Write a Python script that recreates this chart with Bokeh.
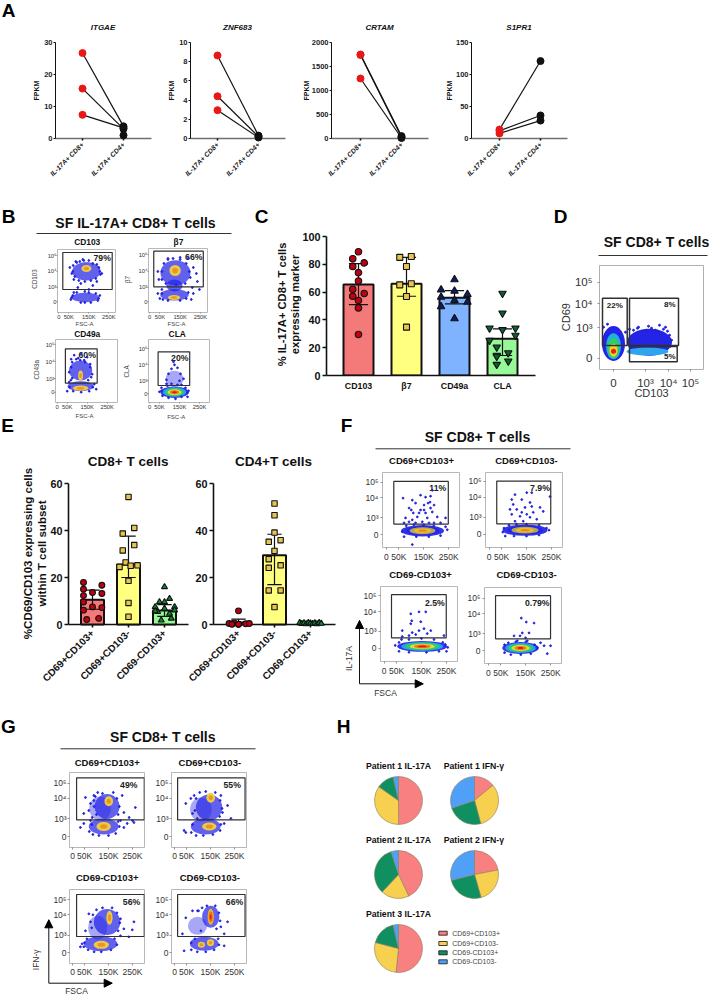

from math import pi
from bokeh.plotting import figure
from bokeh.models import Column, Range1d, FixedTicker
from bokeh.core.properties import value
from bokeh.embed import file_html
from bokeh.resources import INLINE

FONT = "Liberation Sans"

# ---------- Panel A values (FPKM)
A_GENES = ["ITGAE", "ZNF683", "CRTAM", "S1PR1"]
A_GROUPS = ["IL-17A+ CD8+", "IL-17A+ CD4+"]
ITGAE_CD8 = [26.7, 15.6, 7.4]
ITGAE_CD4 = [3.8, 3.0, 3.3]
ITGAE_EXTRA = [1.0]
ZNF683_CD8 = [8.65, 4.4, 2.95]
ZNF683_CD4 = [0.3, 0.2, 0.1]
CRTAM_CD8 = [1750, 1740, 1250]
CRTAM_CD4 = [50, 30, 10]
S1PR1_CD8 = [14, 12, 8]
S1PR1_CD4 = [121, 36, 28]

# ---------- Panel C values (% expressing)
C_LABELS = ["CD103", "β7", "CD49a", "CLA"]
C_MEANS = [65.5, 66, 56, 26.4]
C_HI = [80.5, 85, 61, 33.6]
C_LO = [51, 57, 51.6, 14.4]
C_CD103 = [89, 84, 81, 78.5, 74, 68, 62, 59, 57, 54, 48.6, 29.5]
C_CD103_DX = [0, -.12, .12, -.12, 0, 0, -.12, .12, -.12, 0, 0, 0]
C_B7 = [85, 85.6, 78.4, 65.2, 66, 56.8, 34.8]
C_B7_DX = [-.14, .1, 0, -.14, .1, 0, 0]
C_CD49A = [69, 61.6, 60.7, 58.3, 56.4, 54, 52.8, 49.6, 41]
C_CD49A_DX = [0, -.28, 0, .27, -.28, 0, .27, -.28, 0]
C_CLA = [59, 44.8, 34, 34, 32.9, 28.8, 25.2, 20.4, 14.4, 16.3, 7.9, 10.3, 13.7]
C_CLA_DX = [0, 0, -.27, .27, 0, .27, -.27, -.12, -.12, .12, -.12, .12, -.12]

# ---------- Panel E values
E_LABELS = ["CD69+CD103+", "CD69+CD103-", "CD69-CD103+"]
E8_MEANS = [10.5, 25.5, 6]
E8_HI = [14.6, 37.6, 8.5]
E8_LO = [6.5, 20, 3.5]
E4_MEANS = [0.8, 29.5, 0.5]
E4_HI = [2.3, 38.4, 0.8]
E4_LO = [0.1, 17, 0.2]
E8_A = [17.9, 16.7, 15, 13.6, 13.2, 12.3, 9.6, 7.5, 7.2, 6.1, 2.1, 2.6]
E8_A_DX = [-.25, .26, -.25, 0, .26, -.25, -.25, 0, .26, -.25, -.16, .17]
E8_B = [54.3, 41.1, 38.7, 33.8, 31.5, 26.4, 24.5, 25, 25.2, 18.6, 9.2, 3.3]
E8_B_DX = [0, .16, -.16, .16, -.16, -.08, -.25, .06, .25, 0, 0, 0]
E8_C = [16, 11, 9.6, 9.6, 7.5, 7.5, 6.8, 5.4, 4.7, 1.8, 2.6, 5.7, 6.1]
E8_C_DX = [0, .14, -.14, 0, -.26, .28, 0, -.19, .14, -.09, .19, -.26, .28]
E4_A = [5.8, .4, .7, .1, .3, .4, .1, .1]
E4_A_DX = [0, -.26, -.12, 0, .2, .3, 0, -.18]
E4_B = [51.5, 46.5, 39.1, 35.2, 35.9, 31.3, 27.8, 24.1, 25.2, 14.5, 14.5, 7.4]
E4_B_DX = [0, 0, 0, -.16, .17, 0, -.16, -.16, .17, -.16, .17, 0]
E4_C = [.7, .3, .6, .2, .8, .5, .3, .6, .2, .7, .4]
E4_C_DX = [-.3, -.24, -.18, -.12, -.06, 0, .06, .12, .18, .24, .3]

# ---------- Panel H fractions (percent), clockwise from 12 o'clock
PIE_KEYS = ["CD69+CD103+", "CD69+CD103-", "CD69-CD103+", "CD69-CD103-"]
PIE_P1_17 = [50, 34.7, 11.7, 3.6]
PIE_P1_G = [14, 31.8, 24, 30.2]
PIE_P2_17 = [43, 19, 33, 5]
PIE_P2_G = [22, 23.6, 25.4, 29]
PIE_P3_17 = [51.7, 27.4, 17.3, 3.6]

# ---------- Flow panels: populations as (FSC in K, channel, radius K, radius channel, level)
FLOW_X_TICKS = [0, 50, 150, 250]
FLOW_X_LABELS = ["0", "50K", "150K", "250K"]
LOG_LABELS = ["0", "10³", "10⁴", "10⁵"]

B1_BLOBS = [(138, 30.3, 71, 9.2, 0), (138, 33, 25, 3.5, 1), (133, 4, 70, 4.7, 0)]
B1_DOTS = [(55, 34), (65, 28), (75, 22), (200, 34), (215, 28), (190, 20), (170, 16), (110, 18), (95, 14), (70, 6), (60, 2), (205, 6), (195, 1), (150, 12), (130, 10), (120, 42), (150, 41), (85, 40),
           (72, 36), (80, 25), (90, 39), (105, 40), (125, 41), (170, 38), (190, 37), (205, 30), (208, 27), (185, 23), (160, 21), (130, 20), (100, 21), (70, 30), (64, 4), (75, 9), (90, 9), (110, -1), (130, -1), (160, -1), (185, 8), (199, 3), (150, 9)]
B2_BLOBS = [(127, 28.7, 74, 12.5, 0), (125, 31, 28, 5.5, 1), (122, 6.7, 70, 5.8, 0), (120, 4, 30, 2.6, 1), (122, 16, 40, 6, 0)]
B2_DOTS = [(40, 30), (45, 22), (215, 34), (230, 28), (235, 20), (210, 14), (50, 3), (40, 8), (215, 8), (205, 2), (190, 43), (90, 43), (150, 44), (60, 12), (245, 12),
           (60, 30), (70, 38), (90, 42), (115, 43), (150, 42), (180, 38), (195, 30), (200, 24), (175, 18), (80, 18), (60, 8), (65, 2), (90, 1), (150, 1), (180, 3), (190, 9), (60, 22), (130, 17)]
B3_BLOBS = [(117, 21.7, 58, 10, 0), (117, 6, 65, 5, 0), (117, 4, 38, 2.6, 1), (117, 16.7, 12, 5, 1)]
B3_DOTS = [(70, 33), (85, 37), (120, 38), (150, 35), (165, 28), (175, 18), (60, 20), (60, 10), (185, 8), (195, 3), (50, 1), (105, 34), (135, 32), (75, 14),
           (70, 25), (75, 30), (95, 33), (115, 32), (140, 30), (165, 25), (170, 15), (68, 12), (62, 5), (80, 1), (120, 0), (160, 1), (178, 5), (155, 12)]
B4_BLOBS = [(125, 15, 45, 8, 4), (125, 1.6, 70, 5.8, 2)]
B4_DOTS = [(125, 29), (110, 25), (140, 26), (95, 20), (155, 20), (85, 14), (170, 15), (120, 32), (150, 13), (195, 3), (50, 2), (60, 6), (190, -3),
           (85, 10), (90, 8), (60, 3), (65, -2), (95, -4), (130, -5), (160, -3), (190, 1), (180, 6), (160, 9), (110, 10), (140, 9)]

F1_BLOBS = [(145, 4, 86, 5.8, 3)]
F1_DOTS = [(67, 37), (104, 35), (137, 40), (157, 38), (184, 45), (177, 39), (167, 32), (151, 30), (117, 32), (91, 27), (100, 25), (137, 25), (175, 33), (191, 30), (108, 22), (77, 17), (91, 13), (124, 18), (157, 22), (184, 23), (204, 18), (237, 17), (144, 13), (164, 17), (117, 12), (71, 12), (191, 12), (131, 22), (104, 15), (177, 27), (151, 25), (171, 12), (217, 12), (104, -10), (64, 3), (244, 5), (237, 8), (71, -2), (217, -1),
           (80, 9), (110, 10), (150, 10), (190, 9), (120, -2), (170, -2)]
F2_BLOBS = [(144, 4, 90, 5.8, 3)]
F2_DOTS = [(104, 40), (91, 35), (151, 42), (171, 42), (97, 30), (131, 35), (164, 32), (84, 25), (111, 25), (144, 27), (171, 28), (204, 27), (217, 23), (91, 20), (124, 18), (151, 20), (177, 22), (191, 15), (137, 13), (104, 13), (131, 22), (164, 17), (244, 38), (240, 4), (55, 2),
           (60, 6), (80, 9), (110, 10), (150, 10), (200, 9), (230, 6), (65, -2), (100, -2), (150, -2), (200, -1)]
F3_BLOBS = [(153, 2, 100, 5.5, 2)]
F3_DOTS = [(107, 35), (140, 37), (167, 37), (111, 28), (107, 25), (147, 27), (160, 20), (73, 18), (113, 16), (140, 18), (187, 18), (100, 13), (127, 14), (173, 15), (240, 13), (73, 12), (255, 1), (250, -3), (45, 3),
           (60, 6), (70, 9), (100, 9), (150, 10), (200, 9), (235, 6), (245, 4), (60, -3), (100, -4), (170, -4), (220, -3)]
F4_BLOBS = [(129, 2.7, 73, 6, 2)]
F4_DOTS = [(132, 33), (152, 29), (183, 28), (103, 15), (136, 18), (163, 18), (127, 15), (149, 13), (116, 10), (156, 10), (223, 5), (249, 5), (236, -3), (209, 8),
           (65, 6), (80, 8), (110, 9), (150, 9), (185, 6), (195, 3), (65, -2), (90, -4), (130, -4), (170, -3)]

G1_BLOBS = [(115, 28, 45, 12, 4), (144, 30, 52, 12.5, 0), (151, 35.3, 18, 5, 1), (130, 10, 62, 8, 0), (130, 10, 30, 4.5, 1)]
G1_DOTS = [(54, 39), (75, 33), (68, 26), (47, 23), (89, 41), (207, 41), (214, 24), (236, 19), (250, 16), (262, 29), (228, 13), (256, 14), (214, 9), (200, 16), (47, 13), (33, 9), (89, 36), (82, 19),
           (95, 40), (105, 44), (125, 43), (170, 44), (185, 38), (195, 30), (190, 22), (90, 30), (100, 22), (80, 12), (70, 5), (85, 2), (110, 1), (150, 1), (180, 3), (195, 10), (190, 15), (75, 16)]
G2_BLOBS = [(110, 27, 45, 12, 4), (144, 29, 55, 13, 0), (151, 38.7, 18, 5, 1), (130, 10, 62, 8, 0), (145, 10, 30, 4, 1)]
G2_DOTS = [(68, 38), (47, 33), (75, 23), (193, 41), (221, 31), (200, 24), (235, 18), (82, 41), (40, 6), (47, 4), (207, 13),
           (90, 38), (105, 44), (130, 45), (170, 44), (190, 36), (198, 28), (188, 20), (85, 26), (95, 18), (75, 12), (70, 4), (90, 1), (120, 1), (160, 2), (190, 6), (193, 12)]
G3_BLOBS = [(105, 25, 40, 12, 4), (144, 30.7, 55, 13, 0), (154, 35, 13, 7, 1), (117, 9, 70, 7.5, 0), (120, 8, 32, 4, 1)]
G3_DOTS = [(68, 39), (75, 31), (54, 22), (200, 34), (214, 24), (256, 31), (249, 23), (40, 9), (235, 16), (200, 17), (47, 6), (33, 6),
           (85, 38), (100, 43), (125, 45), (165, 45), (185, 40), (197, 30), (190, 22), (80, 25), (60, 14), (50, 10), (65, 3), (90, 1), (120, 1), (160, 3), (185, 8), (175, 14)]
G4_BLOBS = [(96, 27, 40, 9, 4), (151, 36, 36, 11, 0), (151, 36, 13, 8, 5), (124, 9, 60, 7, 0), (112, 8, 15, 3, 1), (150, 10, 15, 3.5, 1)]
G4_DOTS = [(47, 35), (33, 19), (75, 42), (221, 31), (193, 26), (207, 19), (40, 2), (207, 7), (96, 42),
           (100, 42), (115, 45), (135, 47), (170, 47), (185, 40), (190, 32), (175, 24), (110, 22), (85, 14), (70, 10), (70, 3), (95, 1), (130, 1), (165, 3), (185, 8), (182, 14)]

# Panel D populations in channel units
D_X_TICKS = [0, 32, 55, 77]
D_Y_TICKS = [0, 30.7, 54.7, 76]
D_X = [36, 34, 0, 0, 0, 0, 0]
D_Y = [16, 6.7, 14.7, 12, 10, 8, 7]
D_RX = [22.5, 21, 11.5, 7.5, 6, 4, 2.5]
D_RY = [13.5, 4, 17.5, 13, 10, 6.5, 2.5]
D_COL = ["#2424e6", "#2ea6ee", "#2424e6", "#20b0e0", "#30d060", "#f0d030", "#e82010"]
D_DOTS_X = [-10, -6, 12, 16, 20, 25, 30, 35, 38, 42, 46, 50, 52, 54, 56, 58, 24, 33, 44, 57]
D_DOTS_Y = [31, 34, 26, 29, 28, 31, 27, 32, 30, 28, 33, 29, 31, 27, 23, 18, 30, 28, 27, 12]

PALETTES = {
    0: ["#2424e6"],
    1: ["#f0d040", "#f09020"],
    2: ["#2424e6", "#20b0e0", "#30d060", "#f0e030", "#f07020", "#e01010"],
    3: ["#2424e6", "#2424e6", "#c0b050", "#f0c020", "#f08020"],
    4: ["#2424e6"],
    5: ["#f0c020", "#f07020", "#e82010"],
}
ALPHAS = {0: 0.72, 1: 0.95, 2: 0.92, 3: 0.92, 4: 0.4, 5: 0.95}
GATE = "#303030"


def fig(l, t, r, b, xr, yr, ml=45, mr=4, mt=4, mb=50):
    p = figure(width=r - l + ml + mr, height=b - t + mt + mb,
               x_range=Range1d(*xr), y_range=Range1d(*yr),
               output_backend="svg", toolbar_location=None, frame_align=False,
               min_border_left=ml, min_border_right=mr, min_border_top=mt, min_border_bottom=mb,
               background_fill_alpha=0, border_fill_alpha=0, outline_line_color=None,
               styles={"position": "absolute", "left": f"{l - ml}px", "top": f"{t - mt}px"})
    p.grid.visible = False
    return p


def style_axis(ax, size, bold=True, color="#111111", width=1.5, tick=3, standoff=2, italic=False):
    ax.axis_line_width = width
    ax.axis_line_color = "#111111"
    ax.major_tick_line_width = width
    ax.major_tick_line_color = "#111111"
    ax.major_tick_out = tick
    ax.major_tick_in = 0
    ax.minor_tick_line_color = None
    ax.major_label_text_font = FONT
    ax.major_label_text_font_size = f"{size}px"
    ax.major_label_text_font_style = ("bold italic" if italic else "bold") if bold else ("italic" if italic else "normal")
    ax.major_label_text_color = color
    ax.major_label_standoff = standoff


figs = []

# Background canvas in reference pixel coordinates, for labels only
bg = figure(width=709, height=996, x_range=Range1d(0, 709), y_range=Range1d(996, 0),
            x_axis_type=None, y_axis_type=None, output_backend="svg", toolbar_location=None, frame_align=False,
            min_border=0, min_border_left=0, min_border_right=0, min_border_top=0, min_border_bottom=0,
            outline_line_color=None, background_fill_alpha=0, border_fill_alpha=0,
            styles={"position": "absolute", "left": "0px", "top": "0px"})
bg.grid.visible = False
figs.append(bg)


def T(x, y, s, size, bold=False, color="#111111", align="center", angle=0, italic=False):
    style = ("bold italic" if italic else "bold") if bold else ("italic" if italic else "normal")
    bg.text(x=[x], y=[y], text=[s], text_font=value(FONT), text_font_size=value(f"{size}px"),
            text_font_style=style, text_color=color, text_align=align, text_baseline="middle",
            angle=angle, angle_units="rad")


def rule(x0, x1, y):
    bg.segment(x0=[x0], y0=[y], x1=[x1], y1=[y], line_color="#333333", line_width=1)


for s, x, y in [("A", 8, 10), ("B", 8, 216), ("C", 261, 216), ("D", 560, 216), ("E", 7, 425), ("F", 346, 425), ("G", 8, 726), ("H", 343, 726)]:
    T(x, y, s, 19, bold=True, color="#000000")

# ---------- Panel A
A_BOXES = [(55, 151, 82), (190, 285, 217), (331, 428, 360), (471, 567, 499)]
A_LABEL_X = [35.5, 171, 306, 449]
A_DATA = [(ITGAE_CD8, ITGAE_CD4, ITGAE_EXTRA, 30, [0, 10, 20, 30]),
          (ZNF683_CD8, ZNF683_CD4, [], 10, [0, 2, 4, 6, 8, 10]),
          (CRTAM_CD8, CRTAM_CD4, [], 2000, [0, 500, 1000, 1500, 2000]),
          (S1PR1_CD8, S1PR1_CD4, [], 150, [0, 50, 100, 150])]
for gene, (l, r, c0), lab_x, (cd8, cd4, extra, ymax, yt) in zip(A_GENES, A_BOXES, A_LABEL_X, A_DATA):
    per = ymax / 96
    xr = ((l - c0) / 41, (r - c0) / 41)
    ax = fig(l, 42, r, 138, xr, (0, ymax), ml=30, mb=50, mt=4)
    ax.xaxis.ticker = FixedTicker(ticks=[0, 1])
    ax.xaxis.major_label_overrides = {0: A_GROUPS[0], 1: A_GROUPS[1]}
    ax.xaxis.major_label_orientation = pi / 4
    ax.yaxis.ticker = FixedTicker(ticks=yt)
    style_axis(ax.xaxis[0], 6.8, italic=True, color="#222222", width=1.6, tick=2, standoff=3)
    ax.xaxis.axis_line_color = "#707070"
    style_axis(ax.yaxis[0], 7.5, color="#222222", width=1, tick=2, standoff=1)
    figs.append(ax)
    p = fig(l, 42, r, 144, xr, (-6 * per, ymax), ml=4, mb=4, mt=4)
    p.axis.visible = False
    for a, c in zip(cd8, cd4):
        p.line([0, 1], [a, c], line_color="#111111", line_width=1.2)
    p.scatter([0] * len(cd8), cd8, size=7, color="#e81818")
    p.scatter([1] * (len(cd4) + len(extra)), cd4 + extra, size=7, color="#111111")
    figs.append(p)
    T((l + r) / 2 - 0.5, 27, gene, 8, bold=True, italic=True)
    T(lab_x, 90, "FPKM", 7, bold=True, angle=pi / 2)


# ---------- Flow helper
def flow(frame, x0, pxk, y0, yticks, gate, pct, pct_xy, blobs, dots, tsize, gate_w=1.2, outline="#b8b8b8", ml=28, mb=16, standoff=1, tick=2):
    l, t, r, b = frame
    p = fig(l, t, r, b, ((l - x0) / pxk, (r - x0) / pxk), (y0 - b, y0 - t), ml=ml, mr=2, mt=2, mb=mb)
    p.outline_line_color = outline
    for (cx, cy, rx, ry, lev) in blobs:
        pal = PALETTES[lev]
        for i, col in enumerate(pal):
            k = 1 - i / len(pal)
            p.ellipse(x=[cx], y=[cy], width=[2 * rx * k], height=[2 * ry * k], fill_color=col,
                      line_color=None, fill_alpha=ALPHAS[lev])
    p.scatter([d[0] for d in dots], [d[1] for d in dots], size=1.8, color="#2222dd")
    p.quad(left=[gate[0]], right=[gate[1]], bottom=[gate[2]], top=[gate[3]], fill_color=None,
           line_color=GATE, line_width=gate_w)
    p.xaxis.ticker = FixedTicker(ticks=FLOW_X_TICKS)
    p.xaxis.major_label_overrides = dict(zip(FLOW_X_TICKS, FLOW_X_LABELS))
    p.yaxis.ticker = FixedTicker(ticks=yticks)
    p.yaxis.major_label_overrides = dict(zip(yticks, LOG_LABELS))
    for ax in (p.xaxis[0], p.yaxis[0]):
        style_axis(ax, tsize, bold=False, color="#333333", width=0.7, tick=tick, standoff=standoff)
        ax.axis_line_color = None
        ax.major_tick_line_color = "#666666"
    figs.append(p)
    T(pct_xy[0], pct_xy[1], pct, 8.7, bold=True, color="#222222")


# ---------- Panel B
T(135, 222, "SF IL-17A+ CD8+ T cells", 14, bold=True)
rule(36, 231, 233)
flow((57, 249, 115, 312), 58.3, .2, 301, [0, 14.3, 30.3, 46], (20, 267, 12, 49), "79%", (101.7, 257.7), B1_BLOBS, B1_DOTS, 5.8, standoff=0, tick=1)
flow((148, 248, 207, 312), 149.2, .203, 301, [0, 14.3, 30.3, 46.7], (20, 264, 14.7, 50.3), "66%", (193.3, 256), B2_BLOBS, B2_DOTS, 5.8, standoff=0, tick=1)
flow((55, 339, 117, 402), 56.7, .2, 391.7, [0, 13.4, 30.7, 47.4], (41, 200, 9, 43.4), "60%", (86.7, 354), B3_BLOBS, B3_DOTS, 5.8, standoff=0, tick=1)
flow((148, 339, 209, 402), 149, .2, 393.3, [0, 13.3, 29.3, 45], (43, 201, 8.3, 42), "20%", (179.3, 357.7), B4_BLOBS, B4_DOTS, 5.8, standoff=0, tick=1)
for x, y, s in [(86.7, 241, "CD103"), (178, 241, "β7"), (86.7, 333.3, "CD49a"), (176.7, 333.7, "CLA")]:
    T(x, y, s, 8.4, bold=True)
for x, y in [(84, 323), (176, 323.5), (84, 415.7), (175.7, 416.7)]:
    T(x, y, "FSC-A", 6, color="#444444")
for x, y, s in [(34, 278.5, "CD103"), (126.7, 279, "β7"), (36, 369.3, "CD49a"), (126, 371, "CLA")]:
    T(x, y, s, 6.3, color="#444444", angle=pi / 2)


# ---------- Bars helper
def bars(p, xs, means, hi, lo, cols, width, cap, lw=2):
    p.vbar(x=xs, width=width, top=means, bottom=0, fill_color=cols, line_color="#111111", line_width=lw)
    p.segment(x0=xs, y0=lo, x1=xs, y1=hi, line_color="#111111", line_width=1.2)
    p.segment(x0=[x - cap for x in xs], y0=hi, x1=[x + cap for x in xs], y1=hi, line_color="#111111", line_width=1.2)
    p.segment(x0=[x - cap for x in xs], y0=lo, x1=[x + cap for x in xs], y1=lo, line_color="#111111", line_width=1.2)


def pts(p, i, vals, dxs, marker, color, size):
    p.scatter([i + d for d in dxs], vals, marker=marker, size=size, fill_color=color,
              line_color="#111111", line_width=1.1)


RED, YEL, BLU, GRN = "#f47a7a", "#ffff80", "#7fb2ff", "#98f898"

# ---------- Panel C
p = fig(326, 236, 535, 375, ((326 - 358) / 48, (535 - 358) / 48), (0, 100), ml=32, mb=24)
bars(p, [0, 1, 2, 3], C_MEANS, C_HI, C_LO, [RED, YEL, BLU, GRN], 0.625, 0.2)
pts(p, 0, C_CD103, C_CD103_DX, "circle", "#c00010", 6.5)
pts(p, 1, C_B7, C_B7_DX, "square", "#e8c450", 6)
pts(p, 2, C_CD49A, C_CD49A_DX, "triangle", "#101c60", 7.5)
pts(p, 3, C_CLA, C_CLA_DX, "inverted_triangle", "#0c6030", 7.5)
p.xaxis.ticker = FixedTicker(ticks=[0, 1, 2, 3])
p.xaxis.major_label_overrides = dict(enumerate(C_LABELS))
p.yaxis.ticker = FixedTicker(ticks=[0, 20, 40, 60, 80, 100])
style_axis(p.xaxis[0], 8.8, width=1.6, tick=0, standoff=5)
style_axis(p.yaxis[0], 10.8, width=1.6, tick=4, standoff=2)
figs.append(p)
T(281, 304, "% IL-17A+ CD8+ T cells", 11.2, bold=True, angle=pi / 2)
T(294.5, 304, "expressing marker", 11.2, bold=True, angle=pi / 2)

# ---------- Panel D
T(656, 241.7, "SF CD8+ T cells", 14, bold=True)
rule(598, 707, 255)
p = fig(599, 265, 703, 369, (599 - 613, 703 - 613), (357.7 - 369, 357.7 - 265), ml=36, mr=4, mt=2, mb=24)
p.outline_line_color = "#b0b0b0"
p.ellipse(x=D_X, y=D_Y, width=[2 * v for v in D_RX], height=[2 * v for v in D_RY], fill_color=D_COL, line_color=None)
p.scatter(D_DOTS_X, D_DOTS_Y, size=2, color="#2222dd")
p.quad(left=[-11, 16, 16], right=[13.7, 65, 63.7], bottom=[12.7, 12.7, -3.6], top=[60, 60, 11.7],
       fill_color=None, line_color=GATE, line_width=1.5)
p.text(x=[1.3, 56.3, 56.3], y=[52.7, 53.7, 1.7], text=["22%", "8%", "5%"], text_font=value(FONT),
       text_font_size=value("8px"), text_font_style="bold", text_align="center", text_baseline="middle", text_color="#222222")
p.xaxis.ticker = FixedTicker(ticks=D_X_TICKS)
p.xaxis.major_label_overrides = dict(zip(D_X_TICKS, LOG_LABELS))
p.yaxis.ticker = FixedTicker(ticks=D_Y_TICKS)
p.yaxis.major_label_overrides = dict(zip(D_Y_TICKS, LOG_LABELS))
for ax in (p.xaxis[0], p.yaxis[0]):
    style_axis(ax, 11.5, bold=False, color="#333333", width=0.7, tick=2, standoff=5)
    ax.axis_line_color = None
    ax.major_tick_line_color = "#666666"
figs.append(p)
T(651, 392.7, "CD103", 11, color="#333333")
T(565, 316.7, "CD69", 11, color="#333333", angle=pi / 2)

# ---------- Panel E
E_COLS = [RED, YEL, GRN]
for (l, r, c0, means, hi, lo, series) in [
    (68, 188, 92, E8_MEANS, E8_HI, E8_LO, [(E8_A, E8_A_DX), (E8_B, E8_B_DX), (E8_C, E8_C_DX)]),
    (213, 335, 238, E4_MEANS, E4_HI, E4_LO, [(E4_A, E4_A_DX), (E4_B, E4_B_DX), (E4_C, E4_C_DX)]),
]:
    per = 60 / 141
    xr = ((l - c0) / 36, (r - c0) / 36)
    ax = fig(l, 483, r, 624, xr, (0, 60), ml=30, mb=70)
    ax.xaxis.ticker = FixedTicker(ticks=[0, 1, 2])
    ax.xaxis.major_label_overrides = dict(enumerate(E_LABELS))
    ax.xaxis.major_label_orientation = pi / 4
    ax.yaxis.ticker = FixedTicker(ticks=[0, 20, 40, 60])
    style_axis(ax.xaxis[0], 10, width=1.6, tick=3, standoff=4)
    style_axis(ax.yaxis[0], 10.8, width=1.6, tick=4, standoff=2)
    figs.append(ax)
    p = fig(l, 483, r, 630, xr, (-6 * per, 60), ml=4, mb=4)
    p.axis.visible = False
    bars(p, [0, 1, 2], means, hi, lo, E_COLS, 0.64, 0.2)
    for i, ((v, d), (m, c, s)) in enumerate(zip(series, [("circle", "#c00010", 5.8), ("square", "#e8c450", 5.4), ("triangle", "#0c8a30", 6)])):
        pts(p, i, v, d, m, c, s)
    figs.append(p)
T(127.7, 460.7, "CD8+ T cells", 13.5, bold=True)
T(273, 460.7, "CD4+T cells", 13.5, bold=True)
T(27, 553, "%CD69/CD103 expressing cells", 11.5, bold=True, angle=pi / 2)
T(41, 553, "within T cell subset", 11.5, bold=True, angle=pi / 2)

# ---------- Panel F
F_Y = [0, 17.3, 37.3, 53.3]
T(477, 436, "SF CD8+ T cells", 14, bold=True)
rule(375, 570, 448.3)
flow((382, 472, 459, 548), 385.8, .25, 535, F_Y, (30, 248, 10.7, 54), "11%", (437.3, 487.7), F1_BLOBS, F1_DOTS, 8.5, standoff=2)
flow((485, 472, 562, 548), 488.5, .25, 534.4, F_Y, (31, 247, 10.4, 53.7), "7.9%", (539.5, 487.7), F2_BLOBS, F2_DOTS, 8.5, standoff=2)
flow((380, 586, 457, 662), 383.5, .25, 648.7, F_Y, (30, 249, 10.7, 54.4), "2.5%", (434.3, 602.7), F3_BLOBS, F3_DOTS, 8.5, standoff=2)
flow((484, 587, 561, 664), 487.8, .25, 651, F_Y, (29, 249, 12, 55.7), "0.79%", (536.7, 602.7), F4_BLOBS, F4_DOTS, 8.5, standoff=2)
for x, y, s in [(421, 460, "CD69+CD103+"), (526, 460, "CD69+CD103-"), (420, 574.3, "CD69-CD103+"), (526, 574.3, "CD69-CD103-")]:
    T(x, y, s, 9.5, bold=True)


def arrow(x0, y0, x1, y1):
    bg.segment(x0=[x0, x0], y0=[y0, y0], x1=[x0, x1], y1=[y1, y0], line_color="#111111", line_width=1)
    bg.patch([x0 - 4, x0 + 4, x0], [y1 + 8, y1 + 8, y1], color="#000000")
    bg.patch([x1 - 8, x1 - 8, x1], [y0 - 4, y0 + 4, y0], color="#000000")


arrow(359, 683.3, 422.7, 620)
T(348.3, 658, "IL-17A", 8.5, color="#333333", angle=pi / 2)
T(385, 692, "FSCA", 8.5, color="#333333")

# ---------- Panel G
G_Y = [0, 17.7, 38.3, 53.3]
T(162.3, 736, "SF CD8+ T cells", 14, bold=True)
rule(60, 255, 748.3)
flow((69, 772, 144, 847), 72, .24, 836, G_Y, (17, 299, 16.7, 58.7), "49%", (128.3, 784.3), G1_BLOBS, G1_DOTS, 8.5)
flow((171, 772, 246, 847), 174, .24, 836, G_Y, (13, 294, 16.7, 58.7), "55%", (231.7, 784.3), G2_BLOBS, G2_DOTS, 8.5)
flow((69, 889, 144, 963), 72, .24, 952.3, G_Y, (17, 299, 16.3, 58.3), "56%", (131, 901), G3_BLOBS, G3_DOTS, 8.5)
flow((171, 889, 246, 963), 174, .24, 952.3, G_Y, (13, 294, 16.3, 58.3), "66%", (234, 901), G4_BLOBS, G4_DOTS, 8.5)
for x, y, s in [(106.7, 762.3, "CD69+CD103+"), (209.3, 762.3, "CD69+CD103-"), (106.7, 877.3, "CD69-CD103+"), (209.3, 877.3, "CD69-CD103-")]:
    T(x, y, s, 9.5, bold=True)
arrow(48.3, 982.7, 111.7, 919.3)
T(35.7, 959.3, "IFN-γ", 8.5, color="#333333", angle=pi / 2)
T(76, 990, "FSCA", 8.5, color="#333333")

# ---------- Panel H
PIE_COLS = ["#f88080", "#f8d050", "#109060", "#50a0f8"]
for (cx, cy, vals) in [(398, 800, PIE_P1_17), (474, 800, PIE_P1_G), (398, 874, PIE_P2_17), (474, 874, PIE_P2_G), (398, 948, PIE_P3_17)]:
    p = fig(cx - 26, cy - 26, cx + 26, cy + 26, (-26 / 24, 26 / 24), (-26 / 24, 26 / 24), ml=1, mr=1, mt=1, mb=1)
    p.axis.visible = False
    cum = [0]
    for v in vals:
        cum.append(cum[-1] + v)
    tot = cum[-1]
    p.wedge(x=[0] * 4, y=[0] * 4, radius=1,
            start_angle=[pi / 2 - 2 * pi * c / tot for c in cum[:-1]],
            end_angle=[pi / 2 - 2 * pi * c / tot for c in cum[1:]],
            direction="clock", fill_color=PIE_COLS, line_color="#8a7f60", line_width=0.6)
    figs.append(p)
for x, y, s in [(398, 765, "Patient 1 IL-17A"), (473.3, 765, "Patient 1 IFN-γ"), (398, 839, "Patient 2 IL-17A"), (473.3, 839, "Patient 2 IFN-γ"), (398, 913, "Patient 3 IL-17A")]:
    T(x, y, s, 8.7, bold=True)
for y, col, s in zip([932.7, 943, 952.3, 961.3], PIE_COLS, PIE_KEYS):
    bg.quad(left=[438.3], right=[446.7], top=[y - 2], bottom=[y + 2], fill_color=col, line_color="#111111", line_width=0.8)
    T(451.7, y, s, 7, color="#444444", align="left")

root = Column(children=figs, width=709, height=996, sizing_mode="fixed",
              styles={"position": "absolute", "left": "0px", "top": "0px"})
open("out.html", "w").write(file_html(root, INLINE))
